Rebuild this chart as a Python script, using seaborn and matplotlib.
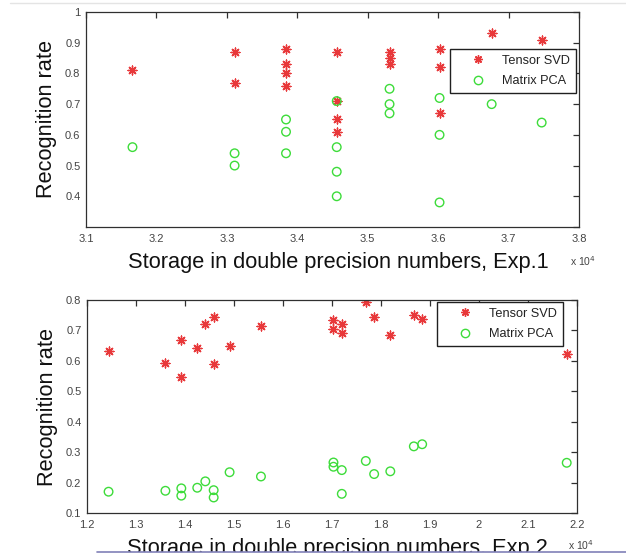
import matplotlib
matplotlib.use("Agg")
import matplotlib.pyplot as plt
import seaborn as sns
import pandas as pd
from matplotlib.lines import Line2D
from matplotlib.patches import Rectangle

# ---------------- data ----------------
# Experiment 1 (x in units of 1e4)
exp1_svd_x = [3.166, 3.311, 3.311, 3.384, 3.384, 3.384, 3.384, 3.456, 3.456, 3.456, 3.456,
              3.531, 3.531, 3.531, 3.602, 3.602, 3.602, 3.676, 3.747]
exp1_svd_y = [0.81, 0.87, 0.77, 0.88, 0.83, 0.80, 0.76, 0.87, 0.71, 0.65, 0.61,
              0.87, 0.85, 0.83, 0.88, 0.82, 0.67, 0.93, 0.91]
exp1_pca_x = [3.166, 3.311, 3.311, 3.384, 3.384, 3.384, 3.456, 3.456, 3.456, 3.456,
              3.531, 3.531, 3.531, 3.602, 3.602, 3.602, 3.676, 3.747]
exp1_pca_y = [0.56, 0.54, 0.50, 0.65, 0.61, 0.54, 0.71, 0.56, 0.48, 0.40,
              0.75, 0.70, 0.67, 0.72, 0.60, 0.38, 0.70, 0.64]

# Experiment 2 (x in units of 1e4)
exp2_x = [1.244, 1.360, 1.3925, 1.3925, 1.425, 1.4415, 1.4585, 1.4585, 1.491, 1.555,
          1.703, 1.703, 1.720, 1.720, 1.769, 1.786, 1.819, 1.867, 1.884, 2.179]
exp2_svd_y = [0.634, 0.594, 0.668, 0.546, 0.642, 0.720, 0.744, 0.590, 0.650, 0.716,
              0.735, 0.705, 0.721, 0.693, 0.792, 0.744, 0.686, 0.751, 0.737, 0.622]
exp2_pca_y = [0.170, 0.173, 0.181, 0.157, 0.183, 0.204, 0.175, 0.151, 0.234, 0.220,
              0.266, 0.252, 0.241, 0.163, 0.271, 0.228, 0.237, 0.319, 0.326, 0.265]

series_names = ["Tensor SVD", "Matrix PCA"]
x_label_1 = "Storage in double precision numbers, Exp.1"
x_label_2 = "Storage in double precision numbers, Exp.2"
y_label = "Recognition rate"

# ---------------- style ----------------
sns.set_theme(style="white")
plt.rcParams["font.family"] = ["Liberation Sans", "DejaVu Sans"]
RED = "#e8383a"
GREEN = "#3ddc3a"
TXT = "#444444"

df1 = pd.concat([
    pd.DataFrame({"x": exp1_svd_x, "y": exp1_svd_y, "method": series_names[0]}),
    pd.DataFrame({"x": exp1_pca_x, "y": exp1_pca_y, "method": series_names[1]}),
])
df2 = pd.concat([
    pd.DataFrame({"x": exp2_x, "y": exp2_svd_y, "method": series_names[0]}),
    pd.DataFrame({"x": exp2_x, "y": exp2_pca_y, "method": series_names[1]}),
])

fig = plt.figure(figsize=(6.26, 5.59), dpi=100)
W, H = 626, 559
ax1 = fig.add_axes([86 / W, (H - 227) / H, 493 / W, 215 / H])
ax2 = fig.add_axes([87 / W, (H - 513) / H, 490 / W, 213 / H])

star = (8, 2, 0)


def draw(ax, df):
    svd = df[df["method"] == series_names[0]]
    pca = df[df["method"] == series_names[1]]
    sns.scatterplot(data=svd, x="x", y="y", ax=ax, marker=star, s=40,
                    color=RED, edgecolor=RED, linewidth=1.0, label=series_names[0])
    sns.scatterplot(data=pca, x="x", y="y", ax=ax, marker="o", s=38,
                    facecolor="none", edgecolor=GREEN, linewidth=1.0, label=series_names[1])
    for sp in ax.spines.values():
        sp.set_visible(True)
        sp.set_color("#303030")
        sp.set_linewidth(0.9)
    ax.tick_params(direction="in", length=4, width=0.9, color="#303030",
                   top=True, right=True, labelsize=8, labelcolor=TXT)
    ax.tick_params(axis="x", pad=5)
    ax.tick_params(axis="y", pad=4)


draw(ax1, df1)
ax1.set_xlim(3.1, 3.8)
ax1.set_ylim(0.3, 1.0)
ax1.set_xticks([3.1, 3.2, 3.3, 3.4, 3.5, 3.6, 3.7, 3.8])
ax1.set_xticklabels(["3.1", "3.2", "3.3", "3.4", "3.5", "3.6", "3.7", "3.8"])
ax1.set_yticks([0.3, 0.4, 0.5, 0.6, 0.7, 0.8, 0.9, 1.0])
ax1.set_yticklabels(["", "0.4", "0.5", "0.6", "0.7", "0.8", "0.9", "1"])
ax1.set_xlabel(x_label_1, fontsize=15.7, color="#111111", labelpad=6)
ax1.xaxis.label.set_x(0.511)
ax1.set_ylabel(y_label, fontsize=15.7, color="#111111", labelpad=6)
ax1.text(0.982, -0.158, r"x 10$^4$", transform=ax1.transAxes, fontsize=7.5,
         color=TXT, ha="left", va="center")

draw(ax2, df2)
ax2.set_xlim(1.2, 2.2)
ax2.set_ylim(0.1, 0.8)
ax2.set_xticks([1.2, 1.3, 1.4, 1.5, 1.6, 1.7, 1.8, 1.9, 2.0, 2.1, 2.2])
ax2.set_xticklabels(["1.2", "1.3", "1.4", "1.5", "1.6", "1.7", "1.8", "1.9", "2", "2.1", "2.2"])
ax2.set_yticks([0.1, 0.2, 0.3, 0.4, 0.5, 0.6, 0.7, 0.8])
ax2.set_yticklabels(["0.1", "0.2", "0.3", "0.4", "0.5", "0.6", "0.7", "0.8"])
ax2.set_xlabel(x_label_2, fontsize=15.7, color="#111111", labelpad=6)
ax2.xaxis.label.set_x(0.511)
ax2.set_ylabel(y_label, fontsize=15.7, color="#111111", labelpad=6)
ax2.text(0.982, -0.150, r"x 10$^4$", transform=ax2.transAxes, fontsize=7.5,
         color=TXT, ha="left", va="center")


def legend(ax, anchor):
    h = [Line2D([], [], ls="none", marker=star, ms=6, mec=RED, mew=1.0, color=RED),
         Line2D([], [], ls="none", marker="o", ms=6, mfc="none", mec=GREEN, mew=1.0)]
    lg = ax.legend(h, series_names, loc="upper left", bbox_to_anchor=anchor,
                   bbox_transform=fig.transFigure, fontsize=9.2, frameon=True,
                   fancybox=False, edgecolor="#202020", framealpha=1,
                   handlelength=3.45, handletextpad=0.2, borderpad=0.45,
                   labelspacing=0.65, borderaxespad=0)
    lg.get_frame().set_linewidth(1.0)
    for t in lg.get_texts():
        t.set_color("#222222")


legend(ax1, (450 / W, (H - 49) / H))
legend(ax2, (437 / W, (H - 302) / H))

# screenshot frame lines
fig.add_artist(Line2D([10 / W, 1], [(H - 3) / H] * 2, transform=fig.transFigure,
                      color="#e4e4e4", lw=1))
fig.add_artist(Rectangle((0, 0), 1, (H - 552) / H, transform=fig.transFigure,
                         facecolor="white", edgecolor="none", zorder=20))
fig.add_artist(Line2D([97 / W, 1], [(H - 552) / H] * 2, transform=fig.transFigure,
                      color="#8080b8", lw=1.2, zorder=21))

fig.savefig("out.png", dpi=100)
